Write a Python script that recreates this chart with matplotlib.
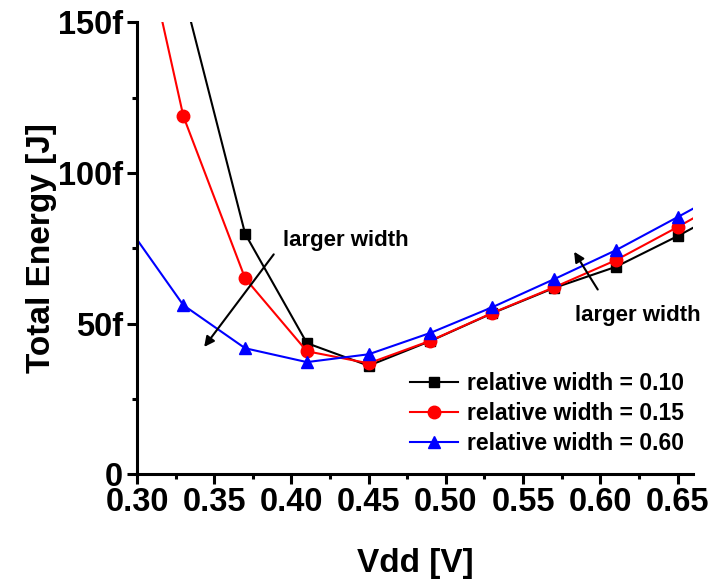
#Total energy vs supply voltage for three relative widths
import numpy as np
import matplotlib.pyplot as plt
from matplotlib.ticker import MultipleLocator, FuncFormatter

plt.rcParams['font.family'] = ['Liberation Sans', 'DejaVu Sans']
plt.rcParams['font.weight'] = 'bold'

# data (energy in fJ); first and last points lie outside the visible window
vdd = [0.29, 0.33, 0.37, 0.41, 0.45, 0.49, 0.53, 0.57, 0.61, 0.65, 0.69]
e_w010 = [260.0, 160.0, 79.8, 43.5, 36.0, 44.2, 53.4, 61.8, 68.8, 79.0, 90.0]
e_w015 = [211.0, 118.8, 65.0, 40.8, 36.8, 44.3, 53.5, 62.0, 71.0, 82.0, 93.5]
e_w060 = [85.1, 56.1, 41.8, 37.2, 39.8, 46.9, 55.4, 64.7, 74.3, 85.3, 96.5]
labels = ['relative width = 0.10', 'relative width = 0.15', 'relative width = 0.60']

fig = plt.figure(figsize=(7.1, 5.84), dpi=100)
ax = fig.add_axes([0.193, 0.188, 0.783, 0.774])

ax.plot(vdd, e_w010, color='black', marker='s', ms=7, lw=1.5, label=labels[0])
ax.plot(vdd, e_w015, color='red', marker='o', ms=9, lw=1.5, label=labels[1])
ax.plot(vdd, e_w060, color='blue', marker='^', ms=9, lw=1.5, label=labels[2])

ax.set_xlim(0.30, 0.66)
ax.set_ylim(0, 150)
ax.xaxis.set_major_locator(MultipleLocator(0.05))
ax.xaxis.set_minor_locator(MultipleLocator(0.025))
ax.yaxis.set_major_locator(MultipleLocator(50))
ax.yaxis.set_minor_locator(MultipleLocator(25))
ax.xaxis.set_major_formatter(FuncFormatter(lambda v, p: '%.2f' % v))
ax.yaxis.set_major_formatter(FuncFormatter(lambda v, p: '0' if v == 0 else '%df' % v))

for s in ['top', 'right']:
    ax.spines[s].set_visible(False)
for s in ['left', 'bottom']:
    ax.spines[s].set_linewidth(2.2)
ax.tick_params(which='major', direction='out', length=7, width=2.2, labelsize=23.5)
ax.tick_params(axis='x', which='major', pad=2)
ax.tick_params(axis='y', which='major', pad=3)
ax.tick_params(which='minor', direction='out', length=3.5, width=2.2)

ax.set_xlabel('Vdd [V]', fontsize=24, fontweight='bold', labelpad=22)
ax.set_ylabel('Total Energy [J]', fontsize=24, fontweight='bold', labelpad=1)

# arrows
ax.annotate('', xy=(0.3424, 41.5), xytext=(0.3896, 73.7),
            arrowprops=dict(arrowstyle='-|>', color='black', lw=1.5, mutation_scale=15))
ax.text(0.3944, 77.7, 'larger width', fontsize=16, fontweight='bold', va='center', ha='left')
ax.annotate('', xy=(0.5821, 74.6), xytext=(0.5993, 60.5),
            arrowprops=dict(arrowstyle='-|>', color='black', lw=1.5, mutation_scale=15))
ax.text(0.6246, 52.8, 'larger width', fontsize=16, fontweight='bold', va='center', ha='center')

ax.legend(loc='lower right', bbox_to_anchor=(0.983, 0.043), frameon=False, fontsize=16.5,
          handlelength=2.1, handletextpad=0.35, labelspacing=0.3, borderaxespad=0.0,
          borderpad=0.0)

fig.savefig('out.png', dpi=100)
